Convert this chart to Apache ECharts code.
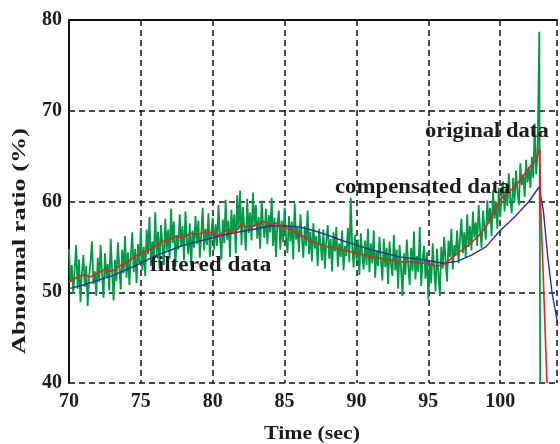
<!DOCTYPE html>
<html>
<head>
<meta charset="utf-8">
<script src="https://cdn.jsdelivr.net/npm/echarts@6/dist/echarts.min.js"></script>
<style>
  html, body { margin: 0; padding: 0; background: #fff; }
  #chart { width: 560px; height: 444px; }
</style>
</head>
<body>
<div id="chart"></div>
<script>
// original (raw) abnormal ratio, sampled every 0.1 s from 70.0 s
const originalStart = 70.0;
const originalStep = 0.1;
const originalValues = [
  54.8, 51.2, 53.0, 49.8, 52.6, 55.2, 50.4, 53.6, 48.9, 52.2,
  54.1, 50.6, 52.9, 48.5, 51.8, 53.4, 55.6, 50.9, 52.3, 49.6,
  53.8, 51.1, 55.2, 52.0, 49.4, 54.3, 51.7, 53.1, 50.2, 55.9,
  52.4, 49.1, 53.6, 51.2, 55.5, 52.8, 50.3, 54.7, 52.1, 56.2,
  51.6, 54.4, 50.8, 53.9, 56.6, 52.2, 54.8, 51.0, 55.3, 53.2,
  57.1, 52.4, 55.0, 51.8, 56.9, 54.2, 58.3, 52.9, 55.6, 53.4,
  58.8, 54.1, 56.7, 52.6, 57.4, 55.2, 53.0, 58.1, 54.6, 56.9,
  53.7, 59.2, 55.4, 57.8, 52.8, 56.3, 54.7, 58.6, 55.1, 57.3,
  53.5, 58.9, 55.8, 54.2, 57.6, 52.9, 56.8, 54.9, 58.4, 55.3,
  57.9, 53.8, 56.4, 59.3, 54.6, 57.0, 55.2, 58.7, 53.9, 56.6,
  58.2, 54.7, 57.5, 55.1, 59.6, 56.2, 53.6, 58.0, 55.4, 60.2,
  55.8, 57.9, 53.9, 59.1, 56.4, 58.6, 54.3, 60.7, 56.9, 61.2,
  55.2, 59.4, 57.1, 54.6, 60.3, 56.5, 58.8, 55.7, 61.0, 57.2,
  59.6, 55.9, 58.3, 54.8, 60.1, 57.4, 56.0, 59.2, 55.3, 58.5,
  56.6, 60.4, 55.1, 58.2, 53.9, 57.6, 59.0, 54.7, 57.9, 55.5,
  59.3, 56.1, 54.3, 58.4, 55.6, 57.8, 53.6, 59.8, 55.8, 57.2,
  54.4, 58.6, 56.0, 53.8, 57.3, 55.1, 59.0, 54.2, 56.7, 53.4,
  57.6, 54.8, 56.2, 52.9, 57.0, 55.3, 53.5, 56.9, 52.6, 55.7,
  57.4, 53.7, 55.9, 52.3, 56.6, 54.5, 57.2, 52.8, 55.4, 53.9,
  56.8, 52.4, 55.1, 54.0, 57.1, 53.3, 60.4, 55.2, 52.7, 56.3,
  53.6, 55.8, 51.9, 56.5, 54.1, 52.5, 55.7, 53.0, 57.0, 52.2,
  55.4, 53.2, 56.8, 51.6, 54.6, 52.9, 56.1, 53.5, 51.3, 55.9,
  52.8, 54.9, 50.9, 55.6, 53.1, 51.8, 56.3, 52.4, 54.7, 50.4,
  55.2, 52.6, 49.6, 54.3, 51.9, 55.8, 53.0, 50.8, 54.9, 52.3,
  56.7, 51.4, 54.0, 52.2, 57.2, 50.7, 53.6, 55.1, 51.5, 54.4,
  49.2, 53.3, 51.0, 55.4, 52.7, 50.1, 54.8, 52.0, 49.6, 55.0,
  52.6, 56.1, 53.4, 51.2, 55.7, 53.9, 57.0, 52.5, 55.2, 54.0,
  56.8, 53.2, 55.9, 58.1, 54.3, 56.6, 53.8, 58.6, 55.0, 57.3,
  54.6, 58.9, 56.0, 57.7, 55.1, 59.6, 56.8, 54.9, 59.0, 57.2,
  55.8, 60.1, 57.5, 59.3, 56.2, 61.2, 58.1, 60.0, 57.0, 61.5,
  58.3, 60.6, 62.2, 58.9, 61.4, 59.5, 63.1, 60.2, 58.7, 62.6,
  60.0, 63.4, 61.1, 59.6, 64.2, 61.8, 63.0, 60.5, 64.6, 62.1,
  63.8, 61.5, 64.9, 62.6, 68.6, 63.0, 65.4
];
// final spike and drop of the original signal, [time, %]
const originalTail = [[102.72, 78.7], [102.78, 40.0]];

// compensated data (red), [time, %]
const compensatedData = [
  [70, 51.1], [70.5, 51.6], [71, 51.9], [71.5, 51.7], [72, 52.1], [72.5, 52.5], [73, 52.3], [73.5, 52.9],
  [74, 53.2], [74.5, 53.9], [75, 54.3], [75.5, 54.6], [76, 55.1], [76.5, 55.6], [77, 55.8], [77.5, 56.2],
  [78, 56.1], [78.5, 56.5], [79, 56.4], [79.5, 56.7], [80, 56.5], [80.5, 56.3], [81, 56.9], [81.5, 56.5],
  [82, 57.5], [82.5, 57.1], [83, 57.4], [83.5, 57.8], [84, 57.5], [84.5, 57.6], [85, 57.1], [85.5, 56.9],
  [86, 56.3], [86.5, 56.0], [87, 55.5], [87.5, 55.3], [88, 55.0], [88.5, 54.9], [89, 54.7], [89.5, 54.5],
  [90, 54.3], [90.5, 54.1], [91, 53.9], [91.5, 53.8], [92, 53.6], [92.5, 53.5], [93, 53.3], [93.5, 53.4],
  [94, 53.3], [94.5, 53.2], [95, 53.2], [95.5, 52.9], [96, 53.0], [96.5, 53.6], [97, 54.3], [97.5, 54.8],
  [98, 55.5], [98.5, 56.2], [99, 57.2], [99.5, 58.6], [100, 60.2], [100.5, 60.9], [101, 61.6], [101.5, 62.6],
  [102, 63.7], [102.5, 64.6], [102.75, 65.8], [102.8, 60.0], [103.0, 51.5], [103.25, 40.0]
];

// filtered data (blue), [time, %]
const filteredData = [
  [70, 50.4], [71, 50.8], [72, 51.3], [73, 51.8], [74, 52.5], [75, 53.2], [76, 54.0], [77, 54.6],
  [78, 55.2], [79, 55.6], [80, 56.0], [81, 56.4], [82, 56.7], [83, 57.0], [84, 57.3], [85, 57.3],
  [86, 57.2], [87, 56.8], [88, 56.3], [89, 55.7], [90, 55.2], [91, 54.7], [92, 54.3], [93, 53.9],
  [94, 53.7], [95, 53.5], [96, 53.2], [97, 53.4], [98, 54.1], [99, 55.0], [100, 56.8], [101, 58.3],
  [102, 60.0], [102.7, 61.6], [103.0, 59.0], [103.3, 54.0], [103.6, 50.0], [104.0, 46.5]
];

const labelTexts = ['original data', 'compensated data', 'filtered data'];
const xName = 'Time (sec)';
const yName = 'Abnormal ratio (%)';

const originalData = originalValues
  .map((v, i) => [+(originalStart + i * originalStep).toFixed(2), v])
  .concat(originalTail);

const serif = '"Liberation Serif", "Times New Roman", serif';
const ink = '#1c1c1c';

const chart = echarts.init(document.getElementById('chart'));

chart.setOption({
  animation: false,
  backgroundColor: '#fff',
  grid: { left: 69, right: 0, top: 20, bottom: 61, containLabel: false },
  xAxis: [
    {
      type: 'value',
      min: 70,
      max: 103.95,
      interval: 5,
      axisLine: { show: false },
      axisTick: { show: false },
      axisLabel: {
        margin: 9,
        color: ink,
        fontFamily: serif,
        fontWeight: 'bold',
        fontSize: 20,
        formatter: v => (v % 5 === 0 ? String(v) : '')
      },
      splitLine: { show: true, lineStyle: { color: '#111', width: 1.5, type: [6, 4] } }
    },
    {
      type: 'value',
      position: 'top',
      min: 70,
      max: 103.95,
      axisLine: { show: true, lineStyle: { color: '#111', width: 2 } },
      axisTick: { show: false },
      axisLabel: { show: false },
      splitLine: { show: false }
    }
  ],
  yAxis: {
    type: 'value',
    min: 40,
    max: 80,
    interval: 10,
    axisLine: { show: true, lineStyle: { color: '#111', width: 2 } },
    axisTick: { show: false },
    axisLabel: {
      margin: 7,
      color: ink,
      fontFamily: serif,
      fontWeight: 'bold',
      fontSize: 20
    },
    splitLine: { show: true, lineStyle: { color: '#111', width: 1.5, type: [6, 4] } }
  },
  series: [
    {
      name: labelTexts[0],
      type: 'line',
      data: originalData,
      showSymbol: false,
      clip: true,
      lineStyle: { color: '#009a46', width: 1.8 }
    },
    {
      name: labelTexts[2],
      type: 'line',
      data: filteredData,
      showSymbol: false,
      clip: true,
      lineStyle: { color: '#2d2d9b', width: 1.4 }
    },
    {
      name: labelTexts[1],
      type: 'line',
      data: compensatedData,
      showSymbol: false,
      clip: true,
      lineStyle: { color: '#e4222a', width: 1.6 }
    }
  ],
  graphic: [
    { type: 'text', x: 425, y: 132, scaleX: 1.13, z: 100,
      style: { text: labelTexts[0], font: 'bold 20px ' + serif, fill: ink, verticalAlign: 'middle' } },
    { type: 'text', x: 335, y: 188, scaleX: 1.14, z: 100,
      style: { text: labelTexts[1], font: 'bold 20px ' + serif, fill: ink, verticalAlign: 'middle' } },
    { type: 'text', x: 150, y: 266, scaleX: 1.16, z: 100,
      style: { text: labelTexts[2], font: 'bold 20px ' + serif, fill: ink, verticalAlign: 'middle' } },
    { type: 'text', x: 312, y: 434, scaleX: 1.15, z: 100,
      style: { text: xName, font: 'bold 19px ' + serif, fill: ink, align: 'center', verticalAlign: 'middle' } },
    { type: 'text', x: 20, y: 241, rotation: Math.PI / 2, scaleX: 1.38, z: 100,
      style: { text: yName, font: 'bold 19px ' + serif, fill: ink, align: 'center', verticalAlign: 'middle' } }
  ]
});
</script>
</body>
</html>
